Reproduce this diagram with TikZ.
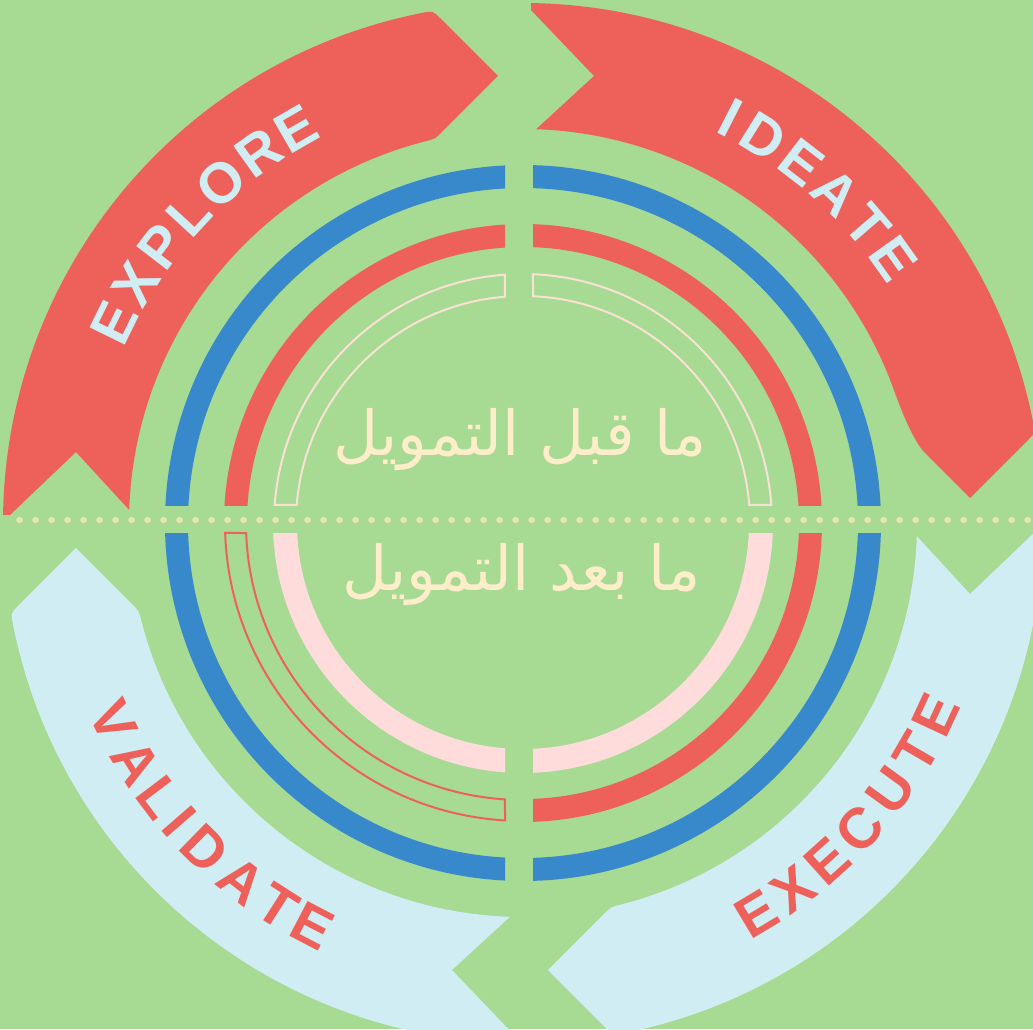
\documentclass[tikz,border=0pt]{standalone}
\usepackage{fontspec}
\newfontfamily\ribbonfont{Liberation Sans}
\newfontfamily\arabicfont[Script=Arabic]{DejaVu Sans}
\TeXXeTstate=1
\definecolor{bggreen}{HTML}{A7DA93}
\definecolor{ribred}{HTML}{EE615A}
\definecolor{ringblue}{HTML}{3889CC}
\definecolor{ribblue}{HTML}{D0EDF3}
\definecolor{pinkfill}{HTML}{FDDCDB}
\definecolor{pinkline}{HTML}{F9E1D4}
\definecolor{creamtxt}{HTML}{FDEDC9}
\definecolor{dotcol}{HTML}{E5E6B4}
\newcommand\ribbonpath{(179.1:513) -- (-447,71) -- (178.1:394)
  arc[start angle=178.1,end angle=104.4,radius=394]
  .. controls (-87.9,384.1) .. (-80.8,391.2) -- (-25,447) -- (-83.0,505.0)
  .. controls (-90.1,512.1) .. (101.1:520)
  arc[start angle=101.1,end angle=179.1,radius=520] -- cycle}
\newcommand\ideatepath{(179.1:513) -- (-447,71) -- (178.1:394)
  arc[start angle=178.1,end angle=110,radius=394]
  .. controls (-116,377) and (-82,390) .. (-70,402) -- (-25,447) -- (-83.0,505.0)
  .. controls (-90.1,512.1) .. (101.1:520)
  arc[start angle=101.1,end angle=179.1,radius=520] -- cycle}
\begin{document}
\begin{tikzpicture}[x=1pt,y=1pt,
  ribtext/.style={font=\ribbonfont\bfseries\fontsize{57}{57}\selectfont,inner sep=0pt},
  arabtext/.style={font=\arabicfont\fontsize{62}{70}\selectfont,text=creamtxt,inner sep=0pt,anchor=base},
  ringline/.style={line width=2pt}]
\useasboundingbox (-523,-506) rectangle (510,523);
\clip (-523,-506) rectangle (510,523);
\fill[bggreen] (-523,-506) rectangle (510,523);

% ribbons
\fill[ribred] \ribbonpath;
\begin{scope}[rotate=-90]
  \fill[ribred] \ideatepath;
\end{scope}
\begin{scope}[rotate=-180]
  \fill[ribblue] \ribbonpath;
\end{scope}
\begin{scope}[rotate=90]
  \fill[ribblue] \ribbonpath;
\end{scope}

% ribbon labels
\foreach \a/\l [count=\i] in {153.85/E,148.3/X,142.54/P,137.32/L,131.59/O,125.42/R,119.97/E}
  \node[ribtext,text=ribblue,rotate=\a-90] (ex\i) at (\a:455) {\l};
\foreach \a/\l [count=\i] in {62.91/I,58.08/D,52.32/E,46.59/A,40.78/T,35.49/E}
  \node[ribtext,text=ribblue,rotate=\a-90] (id\i) at (\a:455) {\l};
\foreach \a/\l [count=\i] in {-59.1/E,-53.55/X,-48.0/E,-42.24/C,-36.0/U,-30.24/T,-24.96/E}
  \node[ribtext,text=ribred,rotate=\a+90] (xc\i) at (\a:455) {\l};
\foreach \a/\l [count=\i] in {205.75/V,211.74/A,217.07/L,221.02/I,225.70/D,231.76/A,237.35/T,242.45/E}
  \node[ribtext,text=ribred,rotate=\a+90] (va\i) at (\a:455) {\l};

% filled quarter rings
\begin{scope}\clip (10,18) rectangle (520,520);
  \fill[ringblue,even odd rule] (0,0) circle[radius=358] circle[radius=335];
  \fill[ribred,even odd rule] (0,0) circle[radius=299] circle[radius=276];
\end{scope}
\begin{scope}\clip (-18,18) rectangle (-520,520);
  \fill[ringblue,even odd rule] (0,0) circle[radius=358] circle[radius=335];
  \fill[ribred,even odd rule] (0,0) circle[radius=299] circle[radius=276];
\end{scope}
\begin{scope}\clip (-18,-10) rectangle (-520,-520);
  \fill[ringblue,even odd rule] (0,0) circle[radius=358] circle[radius=335];
  \fill[pinkfill,even odd rule] (0,0) circle[radius=250] circle[radius=226];
\end{scope}
\begin{scope}\clip (10,-10) rectangle (520,-520);
  \fill[ringblue,even odd rule] (0,0) circle[radius=358] circle[radius=335];
  \fill[ribred,even odd rule] (0,0) circle[radius=299] circle[radius=276];
  \fill[pinkfill,even odd rule] (0,0) circle[radius=250] circle[radius=226];
\end{scope}

% outlined quarter rings
\draw[ringline,pinkline] (4.15:249) arc[start angle=4.15,end angle=87.70,radius=249]
  -- (87.47:227) arc[start angle=87.47,end angle=4.55,radius=227] -- cycle;
\draw[ringline,pinkline] (94.15:249) arc[start angle=94.15,end angle=175.85,radius=249]
  -- (175.45:227) arc[start angle=175.45,end angle=94.55,radius=227] -- cycle;
\draw[ringline,ribred] (181.92:298) arc[start angle=181.92,end angle=266.54,radius=298]
  -- (266.27:277) arc[start angle=266.27,end angle=182.07,radius=277] -- cycle;

% dotted divider
\coordinate (dl) at (-504,3);
\coordinate (dr) at (515,3);
\draw[dotcol,line width=5.5pt,line cap=round,dash pattern=on 1.2pt off 14.8pt] (dl) -- (dr);

% Arabic labels
\node[arabtext] (pre) at (-3,68) {\beginR ما قبل التمويل\endR};
\node[arabtext] (post) at (-1.5,-67) {\beginR ما بعد التمويل\endR};
\end{tikzpicture}
\end{document}
